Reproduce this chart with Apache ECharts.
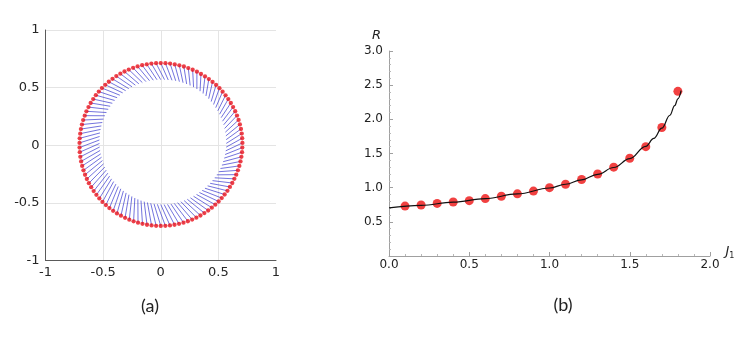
<!DOCTYPE html>
<html>
<head>
<meta charset="utf-8">
<script src="https://cdn.jsdelivr.net/npm/echarts@6/dist/echarts.min.js"></script>
<style>
  html, body { margin: 0; padding: 0; background: #fff; }
  #main { width: 747px; height: 340px; }
</style>
</head>
<body>
<div id="main"></div>
<script>
// ---- panel (a): ring of points, radius per slot (slot 0 at top, going clockwise)
var outerR = [
  0.713, 0.713, 0.713, 0.712, 0.712, 0.712, 0.711, 0.711, 0.711, 0.710,
  0.710, 0.710, 0.710, 0.710, 0.710, 0.710, 0.710, 0.710, 0.710, 0.710,
  0.710, 0.710, 0.710, 0.710, 0.710, 0.710, 0.709, 0.709, 0.708, 0.708,
  0.707, 0.706, 0.705, 0.704, 0.703, 0.702, 0.702, 0.701, 0.701, 0.700,
  0.700, 0.700, 0.700, 0.700, 0.700, 0.700, 0.700, 0.700, 0.700, 0.700,
  0.700, 0.700, 0.700, 0.700, 0.700, 0.700, 0.700, 0.700, 0.700, 0.700,
  0.700, 0.701, 0.701, 0.702, 0.702, 0.703, 0.703, 0.704, 0.704, 0.705,
  0.705, 0.705, 0.705, 0.705, 0.705, 0.705, 0.705, 0.705, 0.705, 0.705,
  0.705, 0.705, 0.705, 0.705, 0.706, 0.706, 0.707, 0.707, 0.708, 0.708,
  0.709, 0.709, 0.710, 0.710, 0.711, 0.711, 0.712, 0.712, 0.712, 0.712,
  0.713, 0.713, 0.713, 0.713, 0.713, 0.713, 0.713, 0.713, 0.713, 0.713
];
// inner end of each blue segment
var innerR = [
  0.570, 0.572, 0.574, 0.575, 0.576, 0.577, 0.578, 0.579, 0.580, 0.580,
  0.580, 0.580, 0.580, 0.579, 0.579, 0.578, 0.578, 0.577, 0.576, 0.575,
  0.574, 0.573, 0.572, 0.571, 0.570, 0.569, 0.568, 0.566, 0.564, 0.562,
  0.560, 0.558, 0.556, 0.553, 0.550, 0.547, 0.544, 0.541, 0.538, 0.535,
  0.532, 0.530, 0.528, 0.526, 0.524, 0.522, 0.521, 0.520, 0.519, 0.518,
  0.517, 0.516, 0.515, 0.514, 0.513, 0.512, 0.511, 0.510, 0.510, 0.510,
  0.510, 0.510, 0.510, 0.510, 0.511, 0.512, 0.513, 0.514, 0.515, 0.516,
  0.517, 0.518, 0.519, 0.520, 0.521, 0.522, 0.523, 0.524, 0.526, 0.528,
  0.530, 0.532, 0.534, 0.536, 0.538, 0.540, 0.542, 0.544, 0.546, 0.548,
  0.550, 0.552, 0.554, 0.556, 0.558, 0.560, 0.561, 0.562, 0.563, 0.564,
  0.565, 0.566, 0.566, 0.567, 0.567, 0.568, 0.568, 0.569, 0.569, 0.570
];
var twistSlots = 2; // inner end sits this many slots further clockwise
var ringTicks = [-1, -0.5, 0, 0.5, 1];

// ---- panel (b): R versus J1
var jPoints = [0.1, 0.2, 0.3, 0.4, 0.5, 0.6, 0.7, 0.8, 0.9, 1.0, 1.1, 1.2, 1.3, 1.4, 1.5, 1.6, 1.7, 1.8];
var rPoints = [0.73, 0.746, 0.77, 0.79, 0.81, 0.84, 0.875, 0.91, 0.95, 1.0, 1.05, 1.12, 1.2, 1.3, 1.43, 1.6, 1.88, 2.41];
var curveJ = [0, 0.2, 0.4, 0.6, 0.8, 1.0, 1.1, 1.2, 1.3, 1.4, 1.5, 1.6, 1.65, 1.7, 1.75, 1.78, 1.8, 1.82];
var curveR = [0.705, 0.742, 0.788, 0.84, 0.908, 0.995, 1.05, 1.115, 1.195, 1.295, 1.425, 1.605, 1.72, 1.87, 2.06, 2.2, 2.3, 2.42];

var nSlots = outerR.length;
var dotData = outerR.map(function (r, i) { return [r, i]; });
var spokeData = outerR.map(function (r, i) {
  return [r, i, innerR[i], (i + twistSlots) % nSlots];
});

var chart = echarts.init(document.getElementById('main'), null, { renderer: 'canvas' });

chart.setOption({
  animation: false,
  backgroundColor: '#fff',
  grid: [
    { left: 45.5, top: 30, width: 230.5, height: 230.5 },
    { left: 389, top: 51, width: 321, height: 205 }
  ],
  polar: { center: [160.75, 145.25], radius: 115.25 },
  angleAxis: { type: 'value', min: 0, max: nSlots, startAngle: 90, clockwise: true, show: false },
  radiusAxis: { type: 'value', min: 0, max: 1, show: false },
  xAxis: [
    {
      gridIndex: 0, type: 'value', min: ringTicks[0], max: ringTicks[4], interval: 0.5,
      axisLine: { onZero: false, lineStyle: { color: '#5a5a5a', width: 1 } },
      axisTick: { show: false },
      axisLabel: { color: '#262626', fontFamily: 'DejaVu Sans', fontSize: 13, margin: 6 },
      splitLine: { show: true, showMaxLine: false, lineStyle: { color: '#e4e4e4', width: 1 } }
    },
    {
      gridIndex: 1, type: 'value', min: 0, max: 2, interval: 0.5,
      name: 'J{s|1}',
      nameLocation: 'end', nameGap: 2,
      nameTextStyle: {
        fontFamily: 'DejaVu Sans', fontSize: 13, fontStyle: 'italic', color: '#222',
        padding: [0, 0, 9, 0],
        rich: { s: { fontSize: 8, fontStyle: 'normal', color: '#222', padding: [8, 0, 0, 0] } }
      },
      axisLine: { onZero: false, lineStyle: { color: '#a0a0a0', width: 1 } },
      axisTick: { show: true, inside: true, length: 4, lineStyle: { color: '#a0a0a0' } },
      minorTick: { show: true, splitNumber: 5, length: 2, lineStyle: { color: '#b8b8b8' } },
      axisLabel: {
        color: '#222', fontFamily: 'DejaVu Sans', fontSize: 12, margin: 3,
        formatter: function (v) { return v.toFixed(1); }
      },
      splitLine: { show: false }
    }
  ],
  yAxis: [
    {
      gridIndex: 0, type: 'value', min: ringTicks[0], max: ringTicks[4], interval: 0.5,
      axisLine: { show: true, onZero: false, lineStyle: { color: '#5a5a5a', width: 1 } },
      axisTick: { show: false },
      axisLabel: { color: '#262626', fontFamily: 'DejaVu Sans', fontSize: 13, margin: 6 },
      splitLine: { show: true, showMinLine: false, lineStyle: { color: '#e4e4e4', width: 1 } }
    },
    {
      gridIndex: 1, type: 'value', min: 0, max: 3, interval: 0.5,
      name: 'R', nameLocation: 'end', nameGap: 9,
      nameTextStyle: {
        fontFamily: 'DejaVu Sans', fontSize: 13, fontStyle: 'italic', color: '#222',
        align: 'right', padding: [0, 8, 0, 0]
      },
      axisLine: { show: true, onZero: false, lineStyle: { color: '#a0a0a0', width: 1 } },
      axisTick: { show: true, inside: true, length: 4, lineStyle: { color: '#a0a0a0' } },
      minorTick: { show: true, splitNumber: 5, length: 2, lineStyle: { color: '#b8b8b8' } },
      axisLabel: {
        color: '#222', fontFamily: 'DejaVu Sans', fontSize: 12, margin: 6, showMinLabel: false,
        formatter: function (v) { return v.toFixed(1); }
      },
      splitLine: { show: false }
    }
  ],
  series: [
    {
      name: 'spokes',
      type: 'custom',
      coordinateSystem: 'polar',
      data: spokeData,
      z: 2,
      renderItem: function (params, api) {
        var a = api.coord([api.value(0), api.value(1)]);
        var b = api.coord([api.value(2), api.value(3)]);
        return {
          type: 'line',
          shape: { x1: a[0], y1: a[1], x2: b[0], y2: b[1] },
          style: { stroke: '#3030cc', lineWidth: 0.8, opacity: 0.85 }
        };
      }
    },
    {
      name: 'ring',
      type: 'scatter',
      coordinateSystem: 'polar',
      data: dotData,
      symbolSize: 4.3,
      itemStyle: { color: '#e8101a' },
      z: 3
    },
    {
      name: 'points',
      type: 'scatter',
      xAxisIndex: 1, yAxisIndex: 1,
      data: jPoints.map(function (j, i) { return [j, rPoints[i]]; }),
      symbolSize: 9,
      itemStyle: { color: '#ee1111' },
      z: 3
    },
    {
      name: 'curve',
      type: 'line',
      xAxisIndex: 1, yAxisIndex: 1,
      data: curveJ.map(function (j, i) { return [j, curveR[i]]; }),
      smooth: 0.4,
      smoothMonotone: 'x',
      showSymbol: false,
      lineStyle: { color: '#111', width: 1.2 },
      z: 4
    }
  ],
  graphic: [
    { type: 'text', x: 150, y: 306, style: { text: '(a)', align: 'center', verticalAlign: 'middle', font: '18px Lato', fill: '#222' } },
    { type: 'text', x: 563, y: 305, style: { text: '(b)', align: 'center', verticalAlign: 'middle', font: '18px Lato', fill: '#222' } }
  ]
});
</script>
</body>
</html>
